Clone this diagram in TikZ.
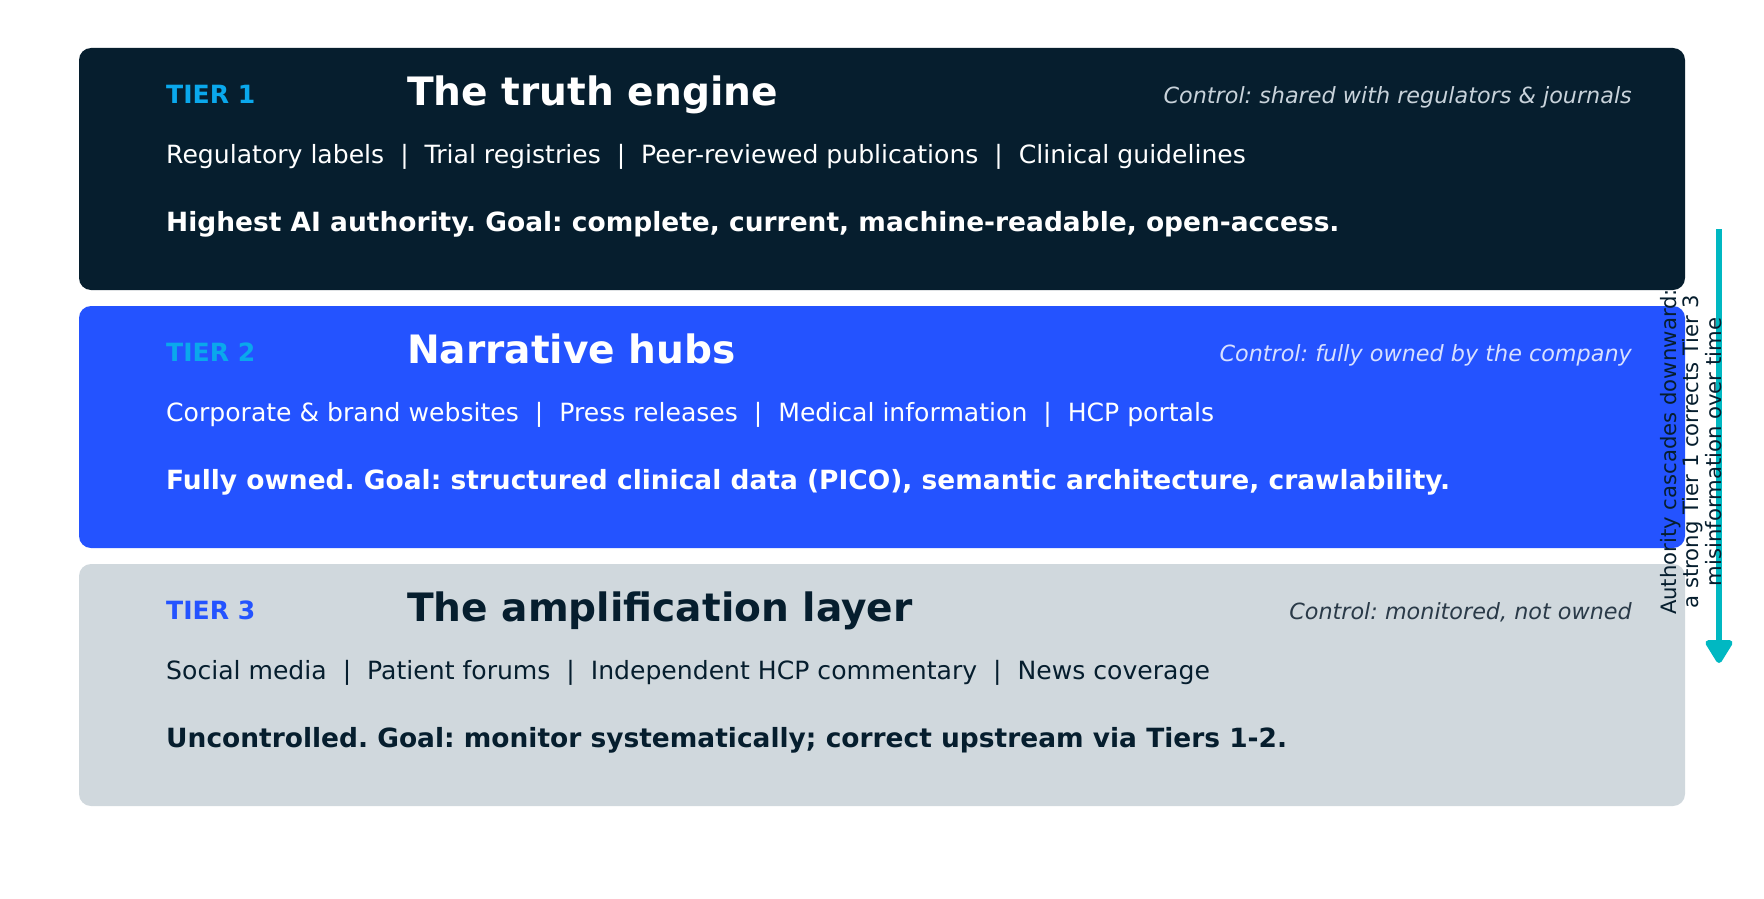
\documentclass[tikz,border=0pt]{standalone}
\usepackage{fontspec}
\setmainfont{DejaVu Sans}
\usetikzlibrary{arrows.meta}
\frenchspacing
\definecolor{navy}{HTML}{061E2E}
\definecolor{bluebox}{HTML}{2453FF}
\definecolor{graybox}{HTML}{D0D8DD}
\definecolor{cyanlbl}{HTML}{0AA8EC}
\definecolor{ctrlA}{HTML}{C8D2DA}
\definecolor{ctrlB}{HTML}{D8E0FF}
\definecolor{ctrlC}{HTML}{2A3A48}
\definecolor{teal}{HTML}{00B8C2}
\tikzset{
  tierbox/.style={minimum width=1606pt, minimum height=242pt, rounded corners=12pt, inner sep=0pt},
  lbl/.style={anchor=base west, inner sep=0pt, font=\fontsize{25.1}{28}\selectfont\bfseries},
  ttl/.style={anchor=base west, inner sep=0pt, font=\fontsize{39.1}{44}\selectfont\bfseries},
  ctrl/.style={anchor=base east, inner sep=0pt, font=\fontsize{22.3}{26}\selectfont\itshape},
  items/.style={anchor=base west, inner sep=0pt, font=\fontsize{25.1}{28}\selectfont},
  goal/.style={anchor=base west, inner sep=0pt, font=\fontsize{26.45}{30}\selectfont\bfseries},
  flow/.style={draw=teal, line width=6pt, -{Triangle[width=30pt,length=26pt,round]}},
}
\begin{document}
\begin{tikzpicture}[x=1pt,y=-1pt]
\useasboundingbox (0,0) rectangle (1764,899);
\fill[white] (0,0) rectangle (1764,899);
% boxes
\node[tierbox, fill=navy] (box1) at (882,169) {};
\node[tierbox, fill=bluebox] (box2) at (882,427) {};
\node[tierbox, fill=graybox] (box3) at (882,685) {};
% tier 1
\node[lbl, text=cyanlbl] (t1) at (166,103) {TIER 1};
\node[ttl, text=white] (h1) at (407,105) {The truth engine};
\node[ctrl, text=ctrlA] (c1) at (1632,103) {Control: shared with regulators \& journals};
\node[items, text=white] (i1) at (166,163) {Regulatory labels\ \ |\ \ Trial registries\ \ |\ \ Peer-reviewed publications\ \ |\ \ Clinical guidelines};
\node[goal, text=white] (g1) at (166,231) {Highest AI authority. Goal: complete, current, machine-readable, open-access.};
% tier 2
\node[lbl, text=cyanlbl] (t2) at (166,361) {TIER 2};
\node[ttl, text=white] (h2) at (407,363) {Narrative hubs};
\node[ctrl, text=ctrlB] (c2) at (1632,361) {Control: fully owned by the company};
\node[items, text=white] (i2) at (166,421) {Corporate \& brand websites\ \ |\ \ Press releases\ \ |\ \ Medical information\ \ |\ \ HCP portals};
\node[goal, text=white] (g2) at (166,489) {Fully owned. Goal: structured clinical data (PICO), semantic architecture, crawlability.};
% tier 3
\node[lbl, text=bluebox] (t3) at (166,619) {TIER 3};
\node[ttl, text=navy] (h3) at (407,621) {The amplification layer};
\node[ctrl, text=ctrlC] (c3) at (1632,619) {Control: monitored, not owned};
\node[items, text=navy] (i3) at (166,679) {Social media\ \ |\ \ Patient forums\ \ |\ \ Independent HCP commentary\ \ |\ \ News coverage};
\node[goal, text=navy] (g3) at (166,747) {Uncontrolled. Goal: monitor systematically; correct upstream via Tiers 1-2.};
% cascade arrow
\coordinate (atop) at (1719,229);
\coordinate (abot) at (1719,663);
\draw[flow] (atop) -- (abot);
\node[rotate=90, align=center, text=navy, inner sep=0pt, font=\fontsize{21.2}{22.5}\selectfont] (note) at (1691,452) {Authority cascades downward:\\a strong Tier 1 corrects Tier 3\\misinformation over time};
\end{tikzpicture}
\end{document}
